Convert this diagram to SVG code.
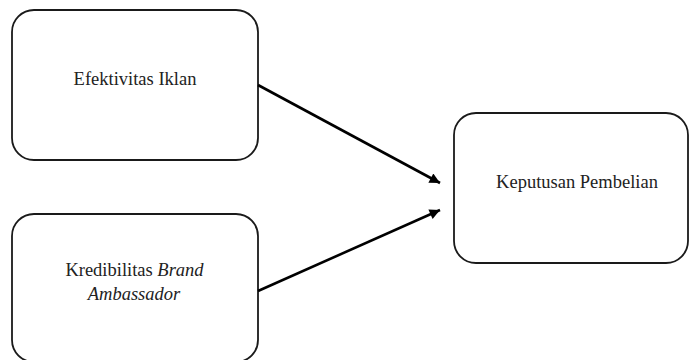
<svg xmlns="http://www.w3.org/2000/svg" width="690" height="360" viewBox="0 0 690 360">
<style>
.box{fill:#fff;stroke:#1a1a1a;stroke-width:1.8}
.lbl{font-family:"Liberation Serif","Times New Roman",serif;font-size:18.5px;fill:#222;text-anchor:middle}
.it{font-style:italic}
.edge{stroke:#000;stroke-width:2.6;fill:none}
</style>
<defs>
<marker id="ah" viewBox="0 0 10 10" refX="10" refY="5" markerWidth="5" markerHeight="4" markerUnits="strokeWidth" orient="auto">
<path d="M0,0 L10,5 L0,10 z" fill="#000"/>
</marker>
</defs>
<rect width="690" height="360" fill="#fff"/>
<g id="node-efektivitas">
<rect class="box" x="12" y="10" width="246" height="150" rx="22" ry="22"/>
<text class="lbl" x="135" y="85">Efektivitas Iklan</text>
</g>
<g id="node-kredibilitas">
<rect class="box" x="12" y="214" width="246" height="148" rx="22" ry="22"/>
<text class="lbl" x="134.5" y="276">Kredibilitas <tspan class="it">Brand</tspan></text>
<text class="lbl it" x="134" y="300">Ambassador</text>
</g>
<g id="node-keputusan">
<rect class="box" x="454" y="113" width="234" height="150" rx="22" ry="22"/>
<text class="lbl" x="577" y="188">Keputusan Pembelian</text>
</g>
<g id="connectors">
<line class="edge" x1="258" y1="85" x2="440" y2="183" marker-end="url(#ah)"/>
<line class="edge" x1="258" y1="291" x2="440" y2="210" marker-end="url(#ah)"/>
</g>
</svg>
